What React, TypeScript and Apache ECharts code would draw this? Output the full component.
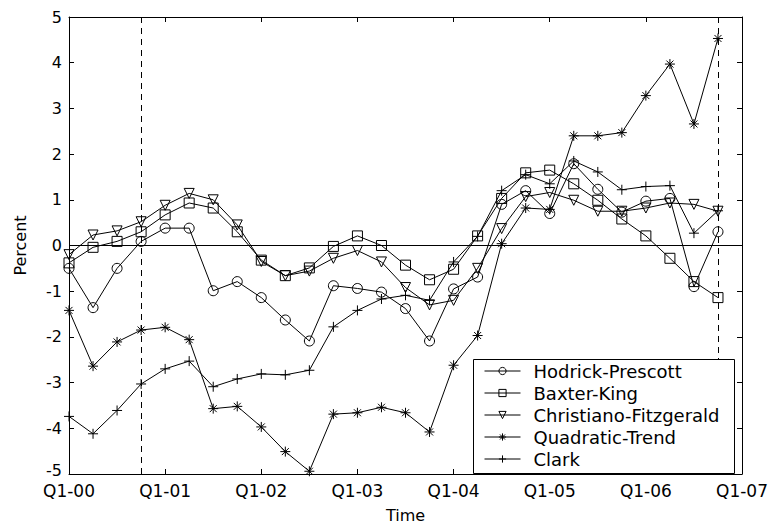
import React, { useEffect, useRef } from 'react';
import * as echarts from 'echarts';

const xTickLabels = ['Q1-00', 'Q1-01', 'Q1-02', 'Q1-03', 'Q1-04', 'Q1-05', 'Q1-06', 'Q1-07'];
const seriesNames = ['Hodrick-Prescott', 'Baxter-King', 'Christiano-Fitzgerald', 'Quadratic-Trend', 'Clark'];

const hodrickPrescott = [-0.5, -1.36, -0.5, 0.09, 0.38, 0.38, -0.99, -0.79, -1.14, -1.63, -2.09, -0.88, -0.94, -1.02, -1.38, -2.09, -0.95, -0.69, 0.9, 1.2, 0.7, 1.79, 1.23, 0.73, 0.97, 1.03, -0.9, 0.3];
const baxterKing = [-0.38, -0.04, 0.09, 0.3, 0.67, 0.93, 0.82, 0.3, -0.32, -0.66, -0.49, -0.02, 0.21, 0.0, -0.43, -0.75, -0.52, 0.21, 1.03, 1.59, 1.65, 1.35, 0.99, 0.58, 0.21, -0.28, -0.79, -1.14];
const christianoFitzgerald = [-0.2, 0.23, 0.32, 0.52, 0.88, 1.14, 1.0, 0.45, -0.35, -0.66, -0.56, -0.28, -0.11, -0.36, -0.92, -1.3, -1.2, -0.5, 0.37, 1.07, 1.16, 0.99, 0.75, 0.75, 0.82, 0.93, 0.9, 0.75];
const quadraticTrend = [-1.42, -2.64, -2.11, -1.85, -1.79, -2.06, -3.57, -3.52, -3.97, -4.51, -4.94, -3.69, -3.66, -3.54, -3.66, -4.08, -2.62, -1.97, 0.04, 0.82, 0.79, 2.4, 2.4, 2.47, 3.28, 3.97, 2.66, 4.53];
const clark = [-3.74, -4.12, -3.61, -3.03, -2.7, -2.53, -3.09, -2.92, -2.81, -2.83, -2.73, -1.78, -1.42, -1.17, -1.09, -1.2, -0.36, 0.2, 1.2, 1.55, 1.35, 1.85, 1.61, 1.22, 1.29, 1.31, 0.27, 0.76];

const dashedQuarters = [3, 27];

const FONT = 'DejaVu Sans';

const symbols = [
  'circle',
  'rect',
  'path://M0,0L10,0L5,8.66Z',
  'path://M5,0L5,10M0,5L10,5M1.5,1.5L8.5,8.5M8.5,1.5L1.5,8.5',
  'path://M5,0L5,10M0,5L10,5',
];

const frameAxis = {
  axisLine: { show: true, onZero: false, lineStyle: { color: '#000', width: 1 } },
  axisTick: { show: true, inside: true, length: 5, lineStyle: { color: '#000' } },
  splitLine: { show: false },
};

export default function App() {
  const ref = useRef<HTMLDivElement>(null);
  useEffect(() => {
    if (!ref.current) return;
    const chart = echarts.init(ref.current, undefined, { renderer: 'svg' });
    const allData = [hodrickPrescott, baxterKing, christianoFitzgerald, quadraticTrend, clark];
    const series: any[] = allData.map((arr, k) => ({
      name: seriesNames[k],
      type: 'line',
      data: arr.map((v, i) => [i, v]),
      symbol: symbols[k],
      symbolSize: 10,
      showAllSymbol: true,
      lineStyle: { color: '#000', width: 1 },
      itemStyle: { color: 'transparent', borderColor: '#000', borderWidth: 1 },
      emphasis: { disabled: true },
      z: 3,
    }));
    series.push({
      name: 'refs',
      type: 'line',
      data: [],
      markLine: {
        silent: true,
        symbol: 'none',
        label: { show: false },
        data: [
          ...dashedQuarters.map((q) => ({ xAxis: q, lineStyle: { color: '#000', width: 1, type: [6, 5] } })),
          { yAxis: 0, lineStyle: { color: '#000', width: 1, type: 'solid' } },
        ],
      },
    });
    chart.setOption({
      animation: false,
      backgroundColor: '#fff',
      textStyle: { fontFamily: FONT },
      grid: { left: 69, right: 26, top: 17, bottom: 45, containLabel: false },
      xAxis: [
        {
          type: 'value', min: 0, max: 28, interval: 4, position: 'bottom',
          name: 'Time', nameLocation: 'middle', nameGap: 33,
          nameTextStyle: { color: '#000', fontSize: 16, fontFamily: FONT },
          ...frameAxis,
          axisLabel: { color: '#000', fontSize: 17, fontFamily: FONT, margin: 9, lineHeight: 16, formatter: (v: number) => xTickLabels[Math.round(v / 4)] },
        },
        {
          type: 'value', min: 0, max: 28, interval: 4, position: 'top',
          ...frameAxis,
          axisLabel: { show: false },
        },
      ],
      yAxis: [
        {
          type: 'value', min: -5, max: 5, interval: 1, position: 'left',
          name: 'Percent', nameLocation: 'middle', nameGap: 41,
          nameTextStyle: { color: '#000', fontSize: 16, fontFamily: FONT },
          ...frameAxis,
          axisLabel: {
            color: '#000', fontSize: 16, fontFamily: FONT, margin: 7, lineHeight: 12,
            formatter: (v: number) => (v === -5 ? '{lo|' + v + '}' : String(v)),
            rich: { lo: { color: '#000', fontSize: 16, fontFamily: FONT, lineHeight: 12, padding: [0, 0, 7, 0] } },
          },
        },
        {
          type: 'value', min: -5, max: 5, interval: 1, position: 'right',
          ...frameAxis,
          axisLabel: { show: false },
        },
      ],
      legend: {
        data: seriesNames,
        orient: 'vertical',
        left: 484,
        top: 362,
        padding: 0,
        itemWidth: 36,
        itemHeight: 9,
        itemGap: 4,
        z: 20,
        selectedMode: false,
        lineStyle: { width: 1, color: '#000' },
        itemStyle: { color: 'transparent', borderColor: '#000', borderWidth: 1 },
        textStyle: { color: '#000', fontSize: 18, fontFamily: FONT, padding: [0, 0, 0, 8] },
      },
      graphic: [
        {
          type: 'rect',
          shape: { x: 473.5, y: 359.5, width: 261, height: 114 },
          style: { fill: '#fff', stroke: '#000', lineWidth: 1 },
          z: 10,
        },
      ],
      series,
    });
    return () => chart.dispose();
  }, []);
  return <div ref={ref} style={{ width: 771, height: 528, position: 'absolute', left: 0, top: 0 }} />;
}
